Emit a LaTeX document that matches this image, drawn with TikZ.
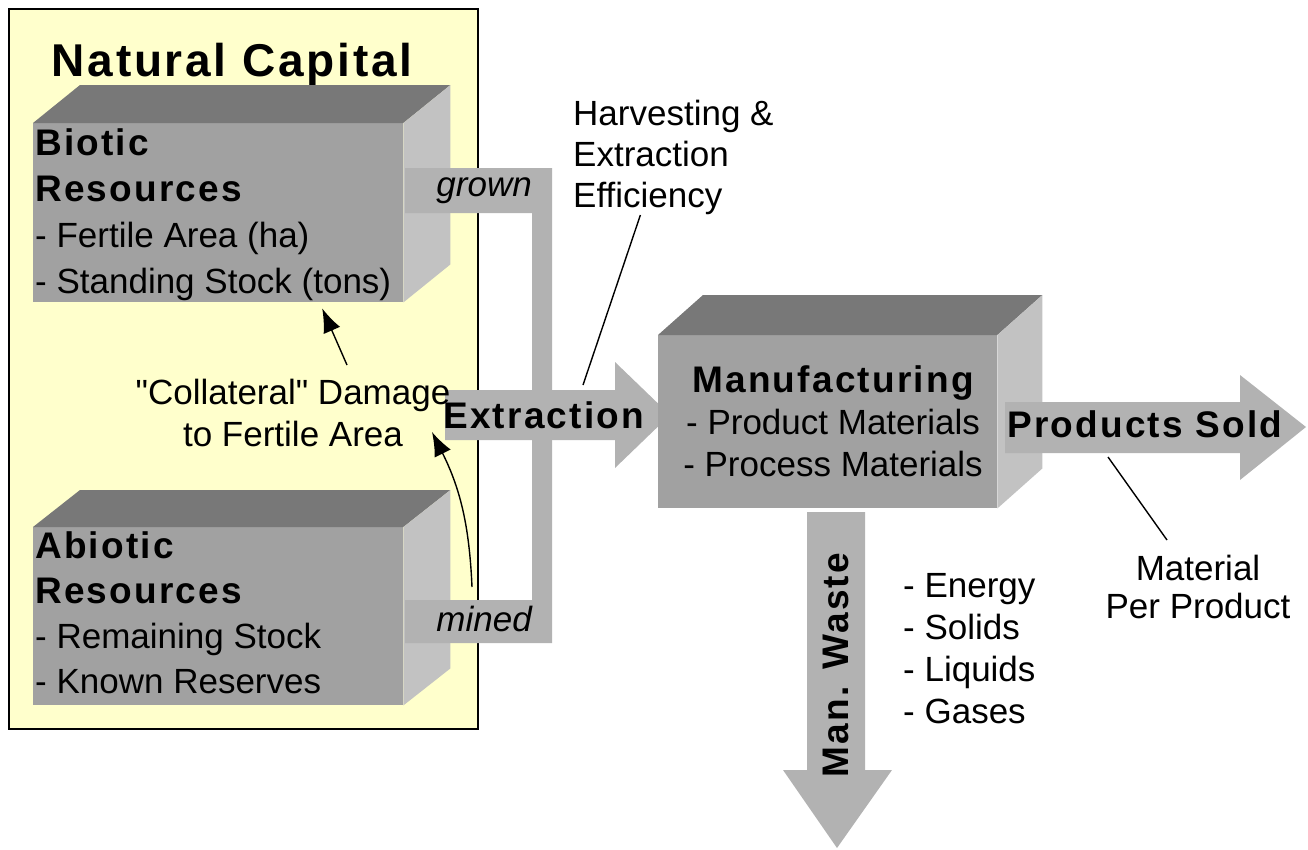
\documentclass[tikz,border=0pt]{standalone}
\usepackage{fontspec}
\setmainfont{Liberation Sans}[BoldFeatures={LetterSpace=6}]
\usetikzlibrary{arrows.meta}

\definecolor{capitalbg}{RGB}{255,255,204}
\definecolor{boxfront}{gray}{0.63}
\definecolor{boxtop}{gray}{0.47}
\definecolor{boxside}{gray}{0.76}
\definecolor{flowgray}{gray}{0.70}

\tikzset{
  boxface/.style={fill=boxfront, inner sep=0, anchor=north west},
  topface/.style={fill=boxtop},
  sideface/.style={fill=boxside},
  flow/.style={fill=flowgray},
  plain/.style={inner sep=0, font=\fontsize{35}{42}\selectfont},
  heading/.style={inner sep=0, font=\fontsize{37}{46}\selectfont\bfseries},
  leader/.style={line width=1.4pt},
  dmg/.style={line width=1.4pt, -{Latex[length=24pt,width=18pt]}},
}
\newcommand{\hd}[1]{{\fontsize{37}{46}\selectfont\bfseries #1}}

\begin{document}
\begin{tikzpicture}[x=1pt, y=-1pt]
    \useasboundingbox (0,0) rectangle (1308,849);

    % natural capital frame
    \draw[fill=capitalbg, line width=2.5pt] (9,9) rectangle (478,729);
    \node[heading, font=\fontsize{46}{50}\selectfont\bfseries, anchor=base] (natcap) at (232,76) {Natural Capital};

    % biotic resources
    \node[boxface, minimum width=370pt, minimum height=179pt] (biotic) at (33,123) {};
    \fill[topface] (biotic.north west) -- ++(47,-38) -- ([shift={(47,-38)}]biotic.north east) -- (biotic.north east) -- cycle;
    \fill[sideface] (biotic.north east) -- ++(47,-38) -- ([shift={(47,-38)}]biotic.south east) -- (biotic.south east) -- cycle;
    \node[plain, font=\fontsize{35}{46}\selectfont, anchor=north west, align=left] (bioticText) at (35,128)
        {\hd{Biotic}\\\hd{Resources}\\- Fertile Area (ha)\\- Standing Stock (tons)};

    % abiotic resources
    \node[boxface, minimum width=370pt, minimum height=178pt] (abiotic) at (33,527) {};
    \fill[topface] (abiotic.north west) -- ++(47,-37) -- ([shift={(47,-37)}]abiotic.north east) -- (abiotic.north east) -- cycle;
    \fill[sideface] (abiotic.north east) -- ++(47,-37) -- ([shift={(47,-37)}]abiotic.south east) -- (abiotic.south east) -- cycle;
    \node[plain, font=\fontsize{35}{45}\selectfont, anchor=north west, align=left] (abioticText) at (35,531)
        {\hd{Abiotic}\\\hd{Resources}\\- Remaining Stock\\- Known Reserves};

    % grown / mined pipe
    \fill[flow] (405,168) -- (552,168) -- (552,643) -- (405,643) -- (405,600) -- (532,600) -- (532,213) -- (405,213) -- cycle;
    \node[plain, font=\fontsize{35}{40}\selectfont\itshape, anchor=base east] (grown) at (532,196) {grown};
    \node[plain, font=\fontsize{35}{40}\selectfont\itshape, anchor=base east] (mined) at (532,631) {mined};

    % extraction arrow
    \fill[flow] (445,390) -- (615,390) -- (615,362) -- (670,415) -- (615,468) -- (615,440) -- (445,440) -- cycle;
    \node[heading, anchor=base west] (extraction) at (443,428) {Extraction};

    % manufacturing
    \node[boxface, minimum width=339pt, minimum height=173pt] (manuf) at (658,335) {};
    \fill[topface] (manuf.north west) -- ++(45,-40) -- ([shift={(45,-40)}]manuf.north east) -- (manuf.north east) -- cycle;
    \fill[sideface] (manuf.north east) -- ++(45,-40) -- ([shift={(45,-40)}]manuf.south east) -- (manuf.south east) -- cycle;
    \node[plain, anchor=north, align=center] (manufText) at (833,365)
        {\hd{Manufacturing}\\- Product Materials\\- Process Materials};

    % products sold arrow
    \fill[flow] (1005,402) -- (1240,402) -- (1240,375) -- (1306,427) -- (1240,480) -- (1240,453) -- (1005,453) -- cycle;
    \node[heading, anchor=base west] (sold) at (1007,437) {Products Sold};

    % waste arrow
    \fill[flow] (807,512) -- (865,512) -- (865,770) -- (892,770) -- (837,848) -- (783,770) -- (807,770) -- cycle;
    \node[heading, rotate=90, anchor=base] (waste) at (848,665) {Man. Waste};
    \node[plain, anchor=north west, align=left] (wasteList) at (903,573)
        {- Energy\\- Solids\\- Liquids\\- Gases};

    % labels
    \node[plain, font=\fontsize{35}{41}\selectfont, anchor=north west, align=left] (harvest) at (573,100)
        {Harvesting \&\\Extraction\\Efficiency};
    \node[plain, anchor=north, align=center] (collateral) at (293,379)
        {\textquotedbl Collateral\textquotedbl\ Damage\\to Fertile Area};
    \node[plain, font=\fontsize{35}{38}\selectfont, anchor=north, align=center] (material) at (1198,555)
        {Material\\Per Product};

    \coordinate (harvestFoot) at (583,385);
    \coordinate (soldFoot) at (1108,457);
    \coordinate (dmgTail) at (347,365);
    \coordinate (dmgTip) at (432,432);
    \coordinate (minedTail) at (472,587);

    \draw[leader] ([xshift=-33pt]harvest.south) -- (harvestFoot);
    \draw[leader] (soldFoot) -- ([shift={(-31,-15)}]material.north);
    \draw[dmg] (dmgTail) -- ([shift={(104,6)}]biotic.south);
    \draw[dmg] (minedTail) to[bend right=12] (dmgTip);
\end{tikzpicture}
\end{document}
